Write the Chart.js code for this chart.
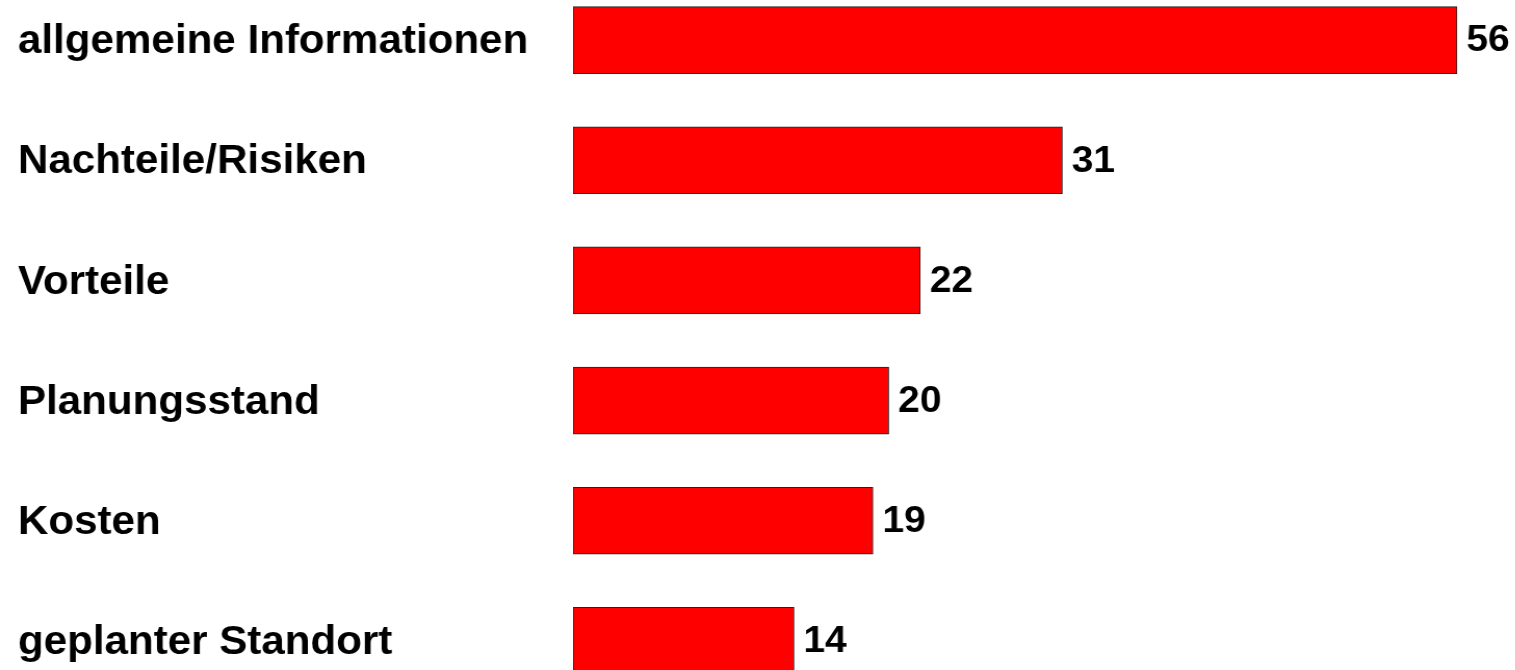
<!DOCTYPE html>
<html>
<head>
<meta charset="utf-8">
<script src="https://cdn.jsdelivr.net/npm/chart.js@4.4.1/dist/chart.umd.min.js"></script>
<style>
  html, body { margin: 0; padding: 0; background: #fff; overflow: hidden; width: 1515px; height: 670px; }
  #wrap { position: absolute; left: 0; top: -20px; transform: scaleX(1.04); transform-origin: 0 0; }
</style>
</head>
<body>
<div id="wrap"><canvas id="c" width="1457" height="721"></canvas></div>
<script>
// Data
const categories = ["allgemeine Informationen","Nachteile/Risiken","Vorteile","Planungsstand","Kosten","geplanter Standort"];
const values = [56, 31, 22, 20, 19, 14];

const FONT = "'Liberation Sans', Arial, sans-serif";

// value labels to the right of each bar
const valueLabels = {
  id: "valueLabels",
  afterDatasetsDraw(chart){
    const ctx = chart.ctx;
    const meta = chart.getDatasetMeta(0);
    ctx.save();
    ctx.font = "bold 37.5px " + FONT;
    ctx.fillStyle = "#000";
    ctx.textAlign = "left";
    ctx.textBaseline = "middle";
    meta.data.forEach((bar,i)=>{
      ctx.fillText(String(values[i]), bar.x + 9, bar.y + 1);
    });
    ctx.restore();
  }
};

new Chart(document.getElementById("c"),{
  type:"bar",
  data:{labels:categories,datasets:[{
    data:values,
    backgroundColor:"#ff0000",
    borderColor:"#222",
    borderWidth:1,
    borderSkipped:false,
    barThickness:67
  }]},
  options:{
    indexAxis:"y",
    responsive:false,
    animation:false,
    layout:{padding:{left:17.3,right:10.5,top:0,bottom:0}},
    plugins:{legend:{display:false},tooltip:{enabled:false}},
    scales:{
      x:{display:false,min:0,max:59},
      y:{
        grid:{display:false},
        border:{display:false},
        ticks:{crossAlign:"far",color:"#000",padding:0,labelOffset:2,font:{family:FONT,size:40.5,weight:"bold"}},
        afterFit(scale){ scale.width = 533.7; scale.paddingTop = 0; scale.paddingBottom = 0; }
      }
    }
  },
  plugins:[valueLabels]
});
</script>
</body>
</html>
